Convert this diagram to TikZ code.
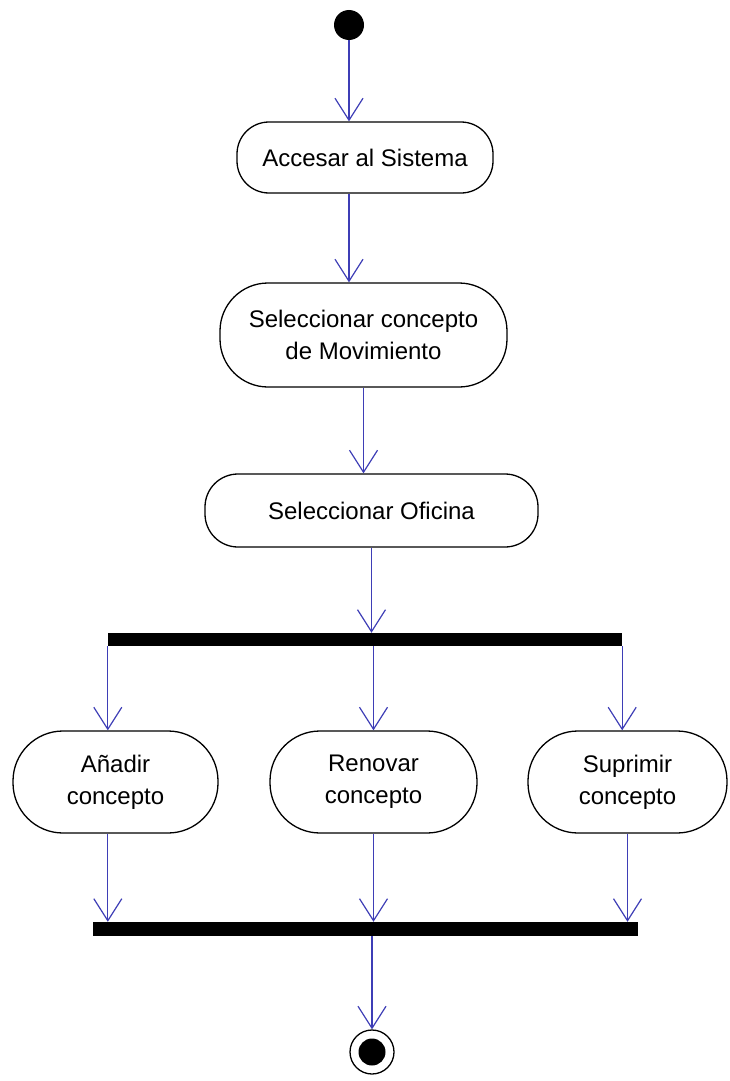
\documentclass[tikz,border=0pt]{standalone}
\usepackage{fontspec}
\setmainfont{Liberation Sans}
\usepackage{tikz}
\usetikzlibrary{arrows.meta}
\definecolor{flowblue}{RGB}{62,62,182}

\begin{document}
\begin{tikzpicture}[x=1pt,y=-1pt,
		act/.style={rectangle,draw,line width=1.3pt,fill=white,align=center,inner sep=0pt,font=\fontsize{24}{32}\selectfont},
		bar/.style={rectangle,fill=black,inner sep=0pt},
		flow/.style={draw=flowblue,line width=1.2pt,-{Straight Barb[length=22pt,width=28pt]}}]
			\useasboundingbox (0,0) rectangle (729,1081);
			
			\node[circle,fill=black,inner sep=0pt,minimum size=30pt] (start) at (349,25) {};
			\node[act,minimum width=256pt,minimum height=71pt,rounded corners=32pt] (acc) at (365,157.5) {Accesar al Sistema};
			\node[act,minimum width=287pt,minimum height=104pt,rounded corners=48pt] (mov) at (363.5,335) {Seleccionar concepto\\de Movimiento};
			\node[act,minimum width=333pt,minimum height=73pt,rounded corners=33pt] (ofi) at (371.5,510.5) {Seleccionar Oficina};
			\node[bar,minimum width=514pt,minimum height=13pt] (fork) at (365,639.5) {};
			\node[act,minimum width=205pt,minimum height=102pt,rounded corners=50pt] (add) at (115.5,782) {Añadir\\concepto};
			\node[act,minimum width=207pt,minimum height=102pt,rounded corners=50pt] (ren) at (373.5,782) {Renovar\\concepto};
			\node[act,minimum width=199pt,minimum height=102pt,rounded corners=50pt] (sup) at (627.5,782) {Suprimir\\concepto};
			\node[bar,minimum width=545pt,minimum height=14pt] (join) at (365.5,929) {};
			\node[circle,draw,line width=1.3pt,fill=white,inner sep=0pt,minimum size=44pt] (end) at (372,1052) {};
			\node[circle,fill=black,inner sep=0pt,minimum size=27pt] (endin) at (end) {};
			
			\draw[flow] (start) -- (start |- acc.north);
			\draw[flow] (acc.south -| start) -- (mov.north -| start);
			\draw[flow] (mov.south) -- (mov.south |- ofi.north);
			\draw[flow] (ofi.south) -- (ofi.south |- fork.north);
			\draw[flow] (fork.south west) -- (fork.south west |- add.north);
			\draw[flow] (ren.north |- fork.south) -- (ren.north);
			\draw[flow] (fork.south east) -- (fork.south east |- sup.north);
			\draw[flow] (add.south -| fork.west) -- (join.north -| fork.west);
			\draw[flow] (ren.south) -- (ren.south |- join.north);
			\draw[flow] (sup.south) -- (sup.south |- join.north);
			\draw[flow] (end |- join.south) -- (end.north);
		\end{tikzpicture}
\end{document}
